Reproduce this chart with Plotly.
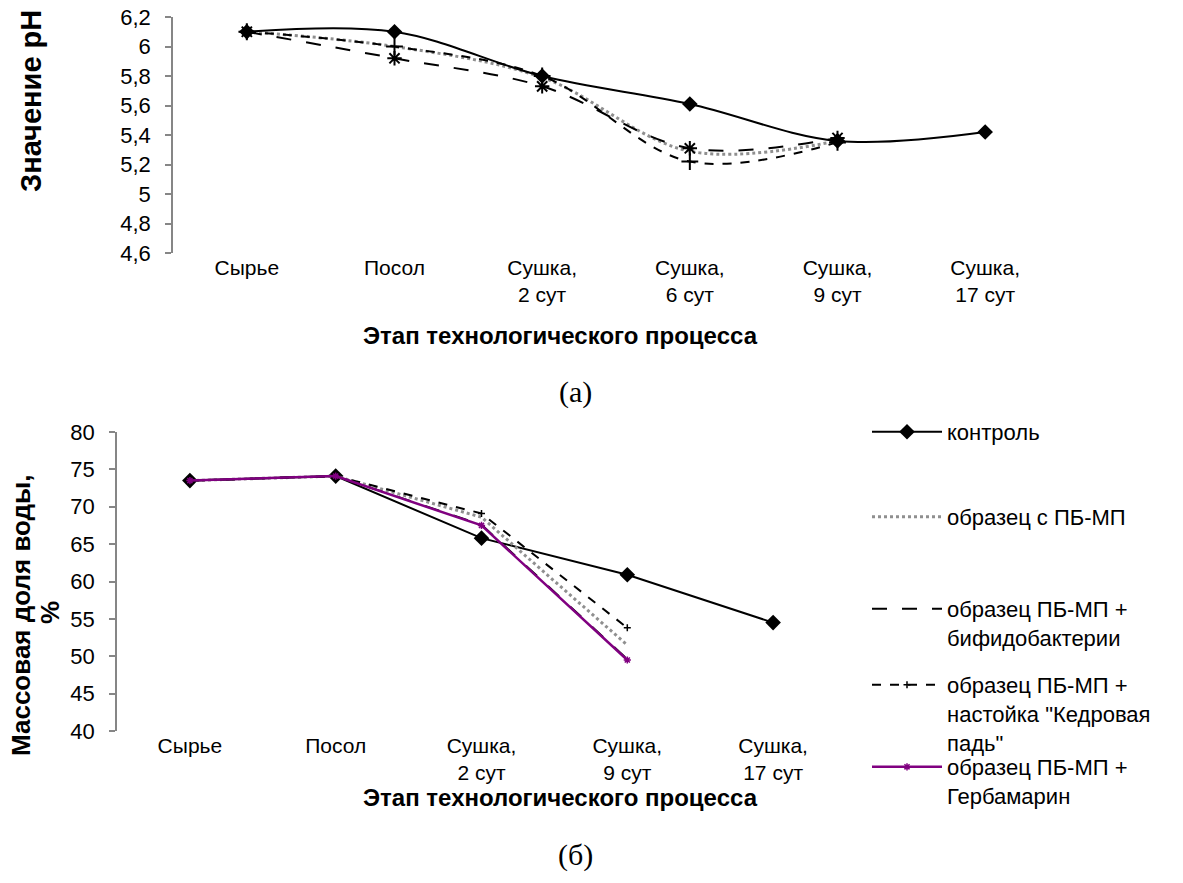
import plotly.graph_objects as go

W, H = 1183, 883

# ---------------- data ----------------
stages_ph = ["Сырье", "Посол", "Сушка,<br>2 сут", "Сушка,<br>6 сут", "Сушка,<br>9 сут", "Сушка,<br>17 сут"]
ph_control = [6.1, 6.1, 5.8, 5.61, 5.36, 5.42]
ph_pbmp = [6.1, 6.0, 5.79, 5.29, 5.36]
ph_bifido = [6.1, 5.92, 5.73, 5.31, 5.38]
ph_kedr = [6.1, 6.0, 5.8, 5.22, 5.35]
ph_ticks = [4.6, 4.8, 5.0, 5.2, 5.4, 5.6, 5.8, 6.0, 6.2]
ph_ticktext = ["4,6", "4,8", "5", "5,2", "5,4", "5,6", "5,8", "6", "6,2"]

stages_w = ["Сырье", "Посол", "Сушка,<br>2 сут", "Сушка,<br>9 сут", "Сушка,<br>17 сут"]
w_control = [73.5, 74.1, 65.8, 60.9, 54.5]
w_pbmp = [73.5, 74.1, 68.6, 51.5]
w_bifido = [73.5, 74.1, 67.6, 49.6]
w_kedr = [73.5, 74.1, 69.1, 53.8]
w_gerb = [73.5, 74.1, 67.5, 49.5]
w_ticks = [40, 45, 50, 55, 60, 65, 70, 75, 80]

names = ["контроль", "образец с ПБ-МП", "образец ПБ-МП +<br>бифидобактерии",
         "образец ПБ-МП +<br>настойка \"Кедровая<br>падь\"", "образец ПБ-МП +<br>Гербамарин"]

FONT = "Liberation Sans, Arial, sans-serif"
SERIF = "Liberation Serif, Times New Roman, serif"
AX = "#868686"


def px_x(p):
    return p / W


def px_y(p):
    return 1 - p / H


fig = go.Figure()

# ---------------- top chart (pH) ----------------
xs_ph = list(range(len(stages_ph)))
fig.add_trace(go.Scatter(x=xs_ph[:len(ph_pbmp)], y=ph_pbmp, mode="lines",
                         line=dict(color="#8f8f8f", width=3, dash="dot", shape="spline"),
                         showlegend=False, xaxis="x", yaxis="y"))
fig.add_trace(go.Scatter(x=xs_ph[:len(ph_bifido)], y=ph_bifido, mode="lines+markers",
                         line=dict(color="black", width=2, dash="longdash", shape="spline"),
                         marker=dict(symbol="asterisk-open", size=12, line=dict(color="black", width=2)),
                         showlegend=False, xaxis="x", yaxis="y"))
fig.add_trace(go.Scatter(x=xs_ph[:len(ph_kedr)], y=ph_kedr, mode="lines+markers",
                         line=dict(color="black", width=2, dash="dash", shape="spline"),
                         marker=dict(symbol="cross-thin-open", size=12, line=dict(color="black", width=2)),
                         showlegend=False, xaxis="x", yaxis="y"))
fig.add_trace(go.Scatter(x=xs_ph, y=ph_control, mode="lines+markers",
                         line=dict(color="black", width=2, shape="spline"),
                         marker=dict(symbol="diamond", size=12, color="black"),
                         showlegend=False, xaxis="x", yaxis="y"))

# ---------------- bottom chart (water) ----------------
xs_w = list(range(len(stages_w)))
fig.add_trace(go.Scatter(x=xs_w, y=w_control, mode="lines+markers", name=names[0],
                         line=dict(color="black", width=2),
                         marker=dict(symbol="diamond", size=12, color="black"),
                         legend="legend", xaxis="x2", yaxis="y2"))
fig.add_trace(go.Scatter(x=xs_w[:len(w_pbmp)], y=w_pbmp, mode="lines", name=names[1],
                         line=dict(color="#8f8f8f", width=3, dash="dot"),
                         legend="legend2", xaxis="x2", yaxis="y2"))
fig.add_trace(go.Scatter(x=xs_w[:len(w_bifido)], y=w_bifido, mode="lines", name=names[2],
                         line=dict(color="black", width=2, dash="longdash"),
                         legend="legend3", xaxis="x2", yaxis="y2"))
fig.add_trace(go.Scatter(x=xs_w[:len(w_kedr)], y=w_kedr, mode="lines+markers", name=names[3],
                         line=dict(color="black", width=2, dash="dash"),
                         marker=dict(symbol="cross-thin-open", size=5, line=dict(color="black", width=1.5)),
                         legend="legend4", xaxis="x2", yaxis="y2"))
fig.add_trace(go.Scatter(x=xs_w[:len(w_gerb)], y=w_gerb, mode="lines+markers", name=names[4],
                         line=dict(color="#800080", width=2.5),
                         marker=dict(symbol="asterisk-open", size=6, line=dict(color="black", width=1.5)),
                         legend="legend5", xaxis="x2", yaxis="y2"))

ytickfont = dict(family=FONT, size=22, color="black")
xtickfont = dict(family=FONT, size=21, color="black")

yaxis_common = dict(showline=True, linecolor=AX, linewidth=1.5, ticks="outside", ticklen=6,
                    tickcolor=AX, tickwidth=1.5, showgrid=False, zeroline=False, tickfont=ytickfont,
                    ticklabelstandoff=10, automargin=False, ticklabeloverflow="allow")
xaxis_common = dict(showline=False, showgrid=False, zeroline=False, ticks="", tickfont=xtickfont,
                    automargin=False)

legend_font = dict(family=FONT, size=22, color="black")


def leg(ytop):
    return dict(x=px_x(867), xanchor="left", y=px_y(ytop), yanchor="top", font=legend_font,
                bgcolor="rgba(0,0,0,0)", itemwidth=70, valign="top", tracegroupgap=0)


fig.update_layout(
    template="none",
    width=W, height=H,
    margin=dict(l=0, r=0, t=0, b=0, autoexpand=False),
    paper_bgcolor="white", plot_bgcolor="white",
    font=dict(family=FONT, color="black"),
    xaxis=dict(domain=[px_x(173), px_x(1059)], range=[-0.5, 5.5], tickvals=xs_ph, ticktext=stages_ph,
               anchor="y", **xaxis_common),
    yaxis=dict(domain=[px_y(253), px_y(17)], range=[4.6, 6.2], tickvals=ph_ticks, ticktext=ph_ticktext,
               anchor="x", **yaxis_common),
    xaxis2=dict(domain=[px_x(117), px_x(846)], range=[-0.5, 4.5], tickvals=xs_w, ticktext=stages_w,
                anchor="y2", **xaxis_common),
    yaxis2=dict(domain=[px_y(731), px_y(432)], range=[40, 80], tickvals=w_ticks,
                anchor="x2", **yaxis_common),
    legend=leg(411),
    legend2=leg(496),
    legend3=leg(588),
    legend4=leg(664),
    legend5=leg(746),
    showlegend=True,
)

ann = [
    dict(text="<b>Значение рН</b>", x=px_x(31), y=px_y(101), textangle=-90, font=dict(family=FONT, size=29)),
    dict(text="<b>Этап технологического процесса</b>", x=px_x(560), y=px_y(336), font=dict(family=FONT, size=24)),
    dict(text="(а)", x=px_x(575), y=px_y(392), font=dict(family=SERIF, size=30)),
    dict(text="<b>Массовая доля воды,</b>", x=px_x(21), y=px_y(615), textangle=-90,
         font=dict(family=FONT, size=26)),
    dict(text="<b>%</b>", x=px_x(50), y=px_y(613), textangle=-90, font=dict(family=FONT, size=26)),
    dict(text="<b>Этап технологического процесса</b>", x=px_x(560), y=px_y(797), font=dict(family=FONT, size=24)),
    dict(text="(б)", x=px_x(575), y=px_y(855), font=dict(family=SERIF, size=30)),
]
for a in ann:
    a.update(xref="paper", yref="paper", showarrow=False, xanchor="center", yanchor="middle")
fig.update_layout(annotations=ann)

fig.write_html("out.html", config={"displayModeBar": False},
               post_script="document.body.style.margin='0';")
